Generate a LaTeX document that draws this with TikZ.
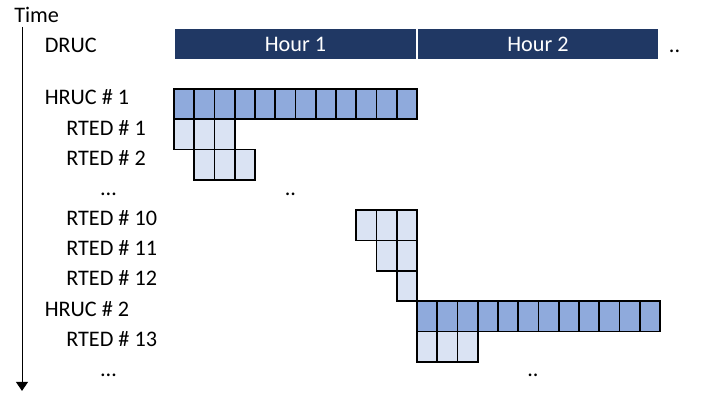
\documentclass[tikz,border=0pt]{standalone}
\usepackage{fontspec}
\setmainfont{Carlito}
\usetikzlibrary{arrows.meta}
\definecolor{drucblue}{HTML}{203864}
\definecolor{hrucblue}{HTML}{8FAADC}
\definecolor{rtedblue}{HTML}{DAE3F3}

\begin{document}
\begin{tikzpicture}[x=0.025cm, y=-0.025cm,
    lbl/.style={anchor=base west, inner sep=0pt, font=\fontsize{15.8}{18}\selectfont},
    dotlbl/.style={anchor=base, inner sep=0pt, font=\fontsize{15.8}{18}\selectfont},
    hourtxt/.style={anchor=base, inner sep=0pt, text=white, font=\fontsize{15.8}{18}\selectfont},
    hruccell/.style={draw=black, fill=hrucblue, line width=1.15pt},
    rtedcell/.style={draw=black, fill=rtedblue, line width=1.15pt}]
    \useasboundingbox (0,0) rectangle (709,394);
    % Grid of the schedule (one cell = 5 min, one row per run)
    \def\gx{174}
    \def\gy{89}
    \def\cw{20.25}
    \def\rh{30.3}
    
    % Time axis
    \coordinate (ttop) at (22,27);
    \coordinate (tbot) at (22,391);
    \draw[line width=0.7pt, -{Triangle[width=8.5pt,length=6.5pt]}] (ttop) -- (tbot);
    \node[lbl] (time) at (14,22.5) {Time};
    
    % DRUC: hourly bars
    \fill[drucblue] (175,29) rectangle (416,59);
    \fill[drucblue] (418,29) rectangle (658,59);
    \node[hourtxt] (hour1) at (295.5,52) {Hour 1};
    \node[hourtxt] (hour2) at (538,52) {Hour 2};
    \node[dotlbl] (drucdots) at (674.5,52.3) {..};
    
    % HRUC and RTED windows
    \foreach \r/\c/\n/\s in {0/0/12/hruccell, 1/0/3/rtedcell, 2/1/3/rtedcell,
        4/9/3/rtedcell, 5/10/2/rtedcell, 6/11/1/rtedcell,
        7/12/12/hruccell, 8/12/3/rtedcell} {
      \foreach \j in {1,...,\n} {
        \pgfmathsetmacro{\xx}{\gx+(\c+\j-1)*\cw}
        \pgfmathsetmacro{\yy}{\gy+\r*\rh}
        \draw[\s] (\xx,\yy) rectangle ++(\cw,\rh);
      }
    }
    
    % Row labels
    \node[lbl] (druc) at (44.5,52.3) {DRUC};
    \node[lbl] (hruc1) at (44.5,105) {HRUC \# 1};
    \node[lbl] (rted1) at (66,135.15) {RTED \# 1};
    \node[lbl] (rted2) at (66,165.3) {RTED \# 2};
    \node[dotlbl] (dotsa) at (108.5,195.45) {…};
    \node[dotlbl] (dotsb) at (290.5,195.45) {..};
    \node[lbl] (rted10) at (66,225.6) {RTED \# 10};
    \node[lbl] (rted11) at (66,255.75) {RTED \# 11};
    \node[lbl] (rted12) at (66,285.9) {RTED \# 12};
    \node[lbl] (hruc2) at (44.5,316.05) {HRUC \# 2};
    \node[lbl] (rted13) at (66,346.2) {RTED \# 13};
    \node[dotlbl] (dotsc) at (108.5,376.35) {…};
    \node[dotlbl] (dotsd) at (533,376.35) {..};
  \end{tikzpicture}
\end{document}
